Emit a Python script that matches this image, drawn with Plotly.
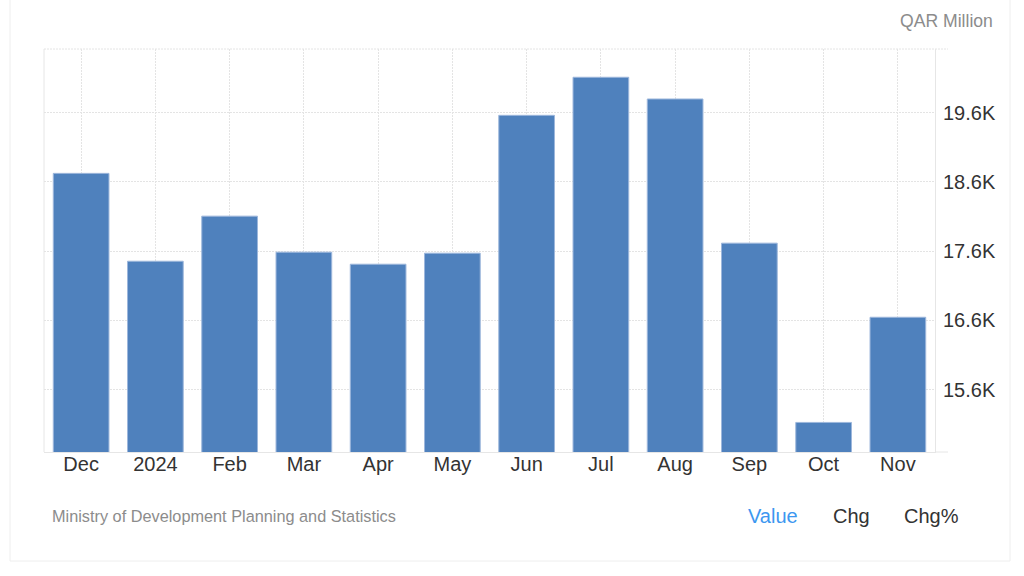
import plotly.graph_objects as go

categories = ["Dec", "2024", "Feb", "Mar", "Apr", "May", "Jun", "Jul", "Aug", "Sep", "Oct", "Nov"]
values = [18724, 17455, 18106, 17586, 17412, 17571, 19562, 20112, 19798, 17716, 15127, 16646]
ytick_vals = [15600, 16600, 17600, 18600, 19600]
ytick_text = ["15.6K", "16.6K", "17.6K", "18.6K", "19.6K"]

W, H = 1024, 576
ML, MR, MT, MB = 44, 89, 49, 124
PW, PH = W - ML - MR, H - MT - MB

def px(x):
    return (x - ML) / PW

def py(y):
    return (H - MB - y) / PH

FONT = "Arial, Liberation Sans, sans-serif"

fig = go.Figure()
fig.add_trace(go.Bar(
    x=categories, y=values,
    marker=dict(color="#4f81bd", line=dict(color="#9db7dc", width=1)),
    hoverinfo="x+y",
))

grid = "#e4e4e4"
DOT = "2px,1px"
fig.update_layout(
    width=W, height=H,
    margin=dict(l=ML, r=MR, t=MT, b=MB),
    paper_bgcolor="white", plot_bgcolor="white",
    bargap=0.25,
    showlegend=False,
    font=dict(family=FONT, size=20, color="#333333"),
    xaxis=dict(
        type="category", showgrid=True, gridcolor=grid, griddash=DOT, gridwidth=1,
        showline=True, linecolor="#e6e6e6", linewidth=1,
        tickfont=dict(size=20, color="#333333"), ticks="", ticklabelstandoff=-6,
        zeroline=False, range=[-0.5, 11.5],
    ),
    yaxis=dict(
        side="right", range=[14700, 20520],
        tickvals=ytick_vals, ticktext=ytick_text,
        showgrid=True, gridcolor=grid, griddash=DOT, gridwidth=1,
        showline=True, linecolor="#e6e6e6", linewidth=1,
        tickfont=dict(size=20, color="#333333"), ticks="", ticklabelstandoff=3,
        zeroline=False,
    ),
    shapes=[
        dict(type="rect", xref="paper", yref="paper", x0=px(10), x1=px(1010), y0=py(561), y1=py(-2),
             line=dict(color="#eeeeee", width=1), fillcolor="rgba(0,0,0,0)", layer="below"),
        dict(type="line", xref="paper", yref="paper", x0=0, x1=px(948), y0=1, y1=1,
             line=dict(color=grid, width=1, dash=DOT), layer="below"),
        dict(type="line", xref="paper", yref="paper", x0=0, x1=0, y0=0, y1=1,
             line=dict(color="#e6e6e6", width=1), layer="below"),
        dict(type="line", xref="paper", yref="paper", x0=1, x1=px(948), y0=0, y1=0,
             line=dict(color="#e6e6e6", width=1), layer="below"),
    ],
    annotations=[
        dict(text="QAR Million", xref="paper", yref="paper", x=px(995), y=py(21),
             xanchor="right", yanchor="middle", showarrow=False,
             font=dict(size=17.6, color="#8c8c8c", family=FONT)),
        dict(text="Ministry of Development Planning and Statistics", xref="paper", yref="paper",
             x=px(50), y=py(516), xanchor="left", yanchor="middle", showarrow=False,
             font=dict(size=16.3, color="#8c8c8c", family=FONT)),
        dict(text="Value", xref="paper", yref="paper", x=px(746), y=py(516),
             xanchor="left", yanchor="middle", showarrow=False,
             font=dict(size=20, color="#3d97f0", family=FONT)),
        dict(text="Chg", xref="paper", yref="paper", x=px(831), y=py(516),
             xanchor="left", yanchor="middle", showarrow=False,
             font=dict(size=20, color="#333333", family=FONT)),
        dict(text="Chg%", xref="paper", yref="paper", x=px(902), y=py(516),
             xanchor="left", yanchor="middle", showarrow=False,
             font=dict(size=20, color="#333333", family=FONT)),
    ],
)

fig.write_html("out.html")
